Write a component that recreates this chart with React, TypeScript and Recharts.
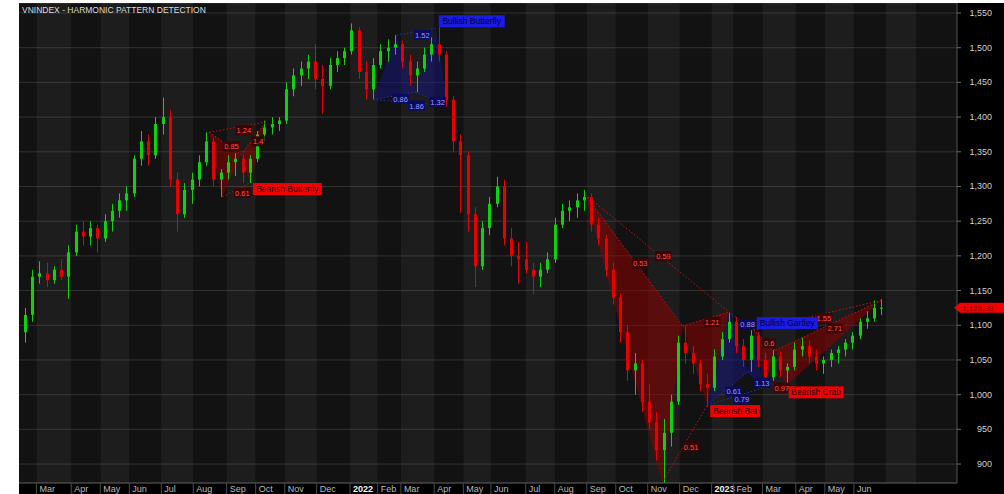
import React from "react";
import {
  ComposedChart,
  Bar,
  Area,
  XAxis,
  YAxis,
  CartesianGrid,
  ReferenceArea,
  ReferenceLine,
  ReferenceDot,
} from "recharts";

// weekly candles, x = trading-day index from mid Feb 2021
const WEEK_T = [
  4, 9, 14, 19, 24, 29, 34, 39, 44, 49, 54, 59, 64, 69, 74, 79, 84, 89, 94, 99,
  104, 109, 114, 119, 124, 129, 134, 139, 144, 149, 154, 159, 164, 169, 174, 179, 184, 189, 194, 199,
  204, 209, 214, 219, 224, 229, 234, 239, 244, 249, 254, 259, 264, 269, 274, 279, 284, 289, 294, 299,
  304, 309, 314, 319, 324, 329, 334, 339, 344, 349, 354, 359, 364, 369, 374, 379, 384, 389, 394, 399,
  404, 409, 414, 419, 424, 429, 434, 439, 444, 449, 454, 459, 464, 469, 474, 479, 484, 489, 494, 499,
  504, 509, 514, 519, 524, 529, 534, 539, 544, 549, 554, 559, 564, 569, 574, 579, 584, 589, 594,
];
const OPEN = [
  1090, 1115, 1170, 1175, 1165, 1180, 1170, 1205, 1235, 1228, 1240, 1225, 1250, 1265, 1280, 1290, 1340, 1365, 1345, 1390,
  1400, 1310, 1260, 1295, 1310, 1335, 1365, 1310, 1320, 1335, 1340, 1320, 1340, 1375, 1385, 1390, 1395, 1440, 1460, 1470,
  1480, 1455, 1445, 1475, 1485, 1495, 1525, 1465, 1440, 1475, 1495, 1500, 1505, 1480, 1460, 1470, 1490, 1505, 1490, 1425,
  1365, 1345, 1260, 1185, 1240, 1275, 1300, 1225, 1200, 1195, 1180, 1170, 1180, 1195, 1245, 1265, 1270, 1280, 1285, 1245,
  1225, 1180, 1140, 1090, 1035, 1045, 990, 960, 920, 945, 990, 1075, 1060, 1045, 1015, 1010, 1055, 1080, 1105, 1070,
  1050, 1085, 1050, 1025, 1055, 1035, 1040, 1065, 1070, 1055, 1045, 1050, 1060, 1065, 1075, 1085, 1105, 1110, 1125,
];
const HIGH = [
  1125, 1180, 1192, 1190, 1185, 1195, 1215, 1245, 1250, 1250, 1245, 1260, 1275, 1290, 1300, 1345, 1380, 1375, 1400, 1428,
  1410, 1320, 1305, 1320, 1345, 1378, 1370, 1325, 1345, 1348, 1346, 1345, 1380, 1395, 1400, 1400, 1450, 1470, 1480, 1490,
  1505, 1475, 1485, 1495, 1500, 1535, 1530, 1480, 1485, 1505, 1512, 1518, 1510, 1490, 1480, 1500, 1515, 1530, 1495, 1430,
  1375, 1350, 1270, 1250, 1285, 1314, 1310, 1240, 1220, 1220, 1190, 1190, 1205, 1255, 1275, 1280, 1290, 1295, 1290, 1255,
  1230, 1190, 1145, 1100, 1060, 1050, 1015, 975, 965, 1000, 1085, 1099, 1070, 1050, 1030, 1065, 1090, 1119, 1112, 1080,
  1093, 1090, 1060, 1064, 1062, 1045, 1075, 1082, 1078, 1065, 1055, 1065, 1070, 1080, 1090, 1110, 1120, 1136, 1138,
];
const LOW = [
  1075, 1105, 1160, 1155, 1160, 1165, 1138, 1200, 1215, 1215, 1205, 1220, 1235, 1255, 1265, 1285, 1330, 1330, 1340, 1375,
  1300, 1235, 1255, 1275, 1300, 1330, 1300, 1285, 1310, 1315, 1305, 1305, 1335, 1365, 1375, 1380, 1390, 1430, 1445, 1455,
  1440, 1405, 1440, 1465, 1475, 1490, 1455, 1425, 1425, 1470, 1480, 1490, 1470, 1445, 1436, 1465, 1480, 1480, 1415, 1350,
  1262, 1235, 1155, 1180, 1230, 1270, 1215, 1185, 1160, 1175, 1145, 1155, 1175, 1190, 1240, 1250, 1255, 1265, 1235, 1215,
  1170, 1130, 1075, 1020, 1000, 975, 950, 905, 873, 925, 985, 1045, 1030, 1005, 983, 1005, 1050, 1075, 1060, 1040,
  1033, 1040, 1010, 1020, 1025, 1012, 1035, 1055, 1045, 1035, 1030, 1040, 1045, 1055, 1065, 1080, 1095, 1105, 1115,
];
const CLOSE = [
  1115, 1170, 1175, 1165, 1180, 1170, 1205, 1235, 1228, 1240, 1225, 1250, 1265, 1280, 1290, 1340, 1365, 1345, 1390, 1400,
  1310, 1260, 1295, 1310, 1335, 1365, 1310, 1320, 1335, 1340, 1320, 1340, 1375, 1385, 1390, 1395, 1440, 1460, 1470, 1480,
  1455, 1445, 1475, 1485, 1495, 1525, 1465, 1440, 1475, 1495, 1500, 1505, 1480, 1460, 1470, 1490, 1505, 1490, 1425, 1365,
  1345, 1260, 1185, 1240, 1275, 1300, 1225, 1200, 1195, 1180, 1170, 1180, 1195, 1245, 1265, 1270, 1280, 1285, 1245, 1225,
  1180, 1140, 1090, 1035, 1045, 990, 960, 920, 945, 990, 1075, 1060, 1045, 1015, 1010, 1055, 1080, 1105, 1070, 1050,
  1085, 1050, 1025, 1055, 1035, 1040, 1065, 1070, 1055, 1045, 1050, 1060, 1065, 1075, 1085, 1105, 1110, 1125, 1125.39,
];
const LAST_PRICE = 1125.39;

// month boundaries (trading-day index), Feb 2021 .. end of view
const MONTH_START_T = [
  0, 12, 36, 56, 76, 98, 120, 143, 163, 183, 205, 228, 247, 263, 286, 306, 325, 349, 369, 391, 411, 433, 455, 477,
  492, 512, 535, 555, 575, 597, 618, 646,
];
const MONTH_TICK_T = [
  12, 36, 56, 76, 98, 120, 143, 163, 183, 205, 228, 247, 263, 286, 306, 325, 349, 369, 391, 411, 433, 455, 477, 492,
  512, 535, 555, 575,
];
const MONTH_LABELS = [
  "Mar", "Apr", "May", "Jun", "Jul", "Aug", "Sep", "Oct", "Nov", "Dec", "2022", "Feb", "Mar", "Apr", "May", "Jun",
  "Jul", "Aug", "Sep", "Oct", "Nov", "Dec", "2023", "Feb", "Mar", "Apr", "May", "Jun",
];
const PRICE_TICKS = [900, 950, 1000, 1050, 1100, 1150, 1200, 1250, 1300, 1350, 1400, 1450, 1500, 1550];

// harmonic patterns: pivots X, A, B, C, D
const PATTERN_NAMES = ["Bearish Butterfly", "Bullish Butterfly", "Bearish Bat", "Bullish Gartley", "Bearish Crab"];
const PATTERN_BULL = [false, true, false, true, false];
const PIVOT_T = [
  [131, 140, 153, 159, 170],
  [244, 260, 273, 287, 295],
  [390, 443, 457, 474, 489],
  [474, 489, 502, 506, 513],
  [506, 514, 521, 528, 594],
];
const PIVOT_V = [
  [1378, 1285, 1346, 1305, 1393],
  [1425, 1518, 1436, 1528, 1417],
  [1288, 873, 1099, 985, 1119],
  [985, 1119, 1033, 1093, 1010],
  [1093, 1017, 1064, 1012, 1136],
];
const RATIO_XB = ["0.85", "0.86", "0.53", "0.61", "0.6"];
const RATIO_AC = ["0.61", "1.52", "0.51", "0.88", "0.97"];
const RATIO_BD = ["1.4", "1.32", "1.21", "1.13", "2.71"];
const RATIO_XD = ["1.24", "1.86", "0.59", "0.79", "1.55"];

const UP = "#10d010";
const DOWN = "#e80000";
const FONT = "'Liberation Sans', Arial, sans-serif";

const candles = WEEK_T.map((t, i) => ({ t, open: OPEN[i], high: HIGH[i], low: LOW[i], close: CLOSE[i] }));

// triangle p0-p1-p2 as a range area (lower/upper edge at the middle pivot)
const triangle = (ts: number[], vs: number[]) => {
  const chord = vs[0] + ((vs[2] - vs[0]) * (ts[1] - ts[0])) / (ts[2] - ts[0]);
  return [
    { t: ts[0], r: [vs[0], vs[0]] },
    { t: ts[1], r: [Math.min(chord, vs[1]), Math.max(chord, vs[1])] },
    { t: ts[2], r: [vs[2], vs[2]] },
  ];
};

// rough Arial width, used to size the label boxes
const textWidth = (s: string, size: number) =>
  s.split("").reduce((w, ch) => {
    if ("iljt ".includes(ch)) return w + 0.26 * size;
    if ("rf".includes(ch)) return w + 0.32 * size;
    if (ch >= "A" && ch <= "Z") return w + 0.68 * size;
    return w + 0.54 * size;
  }, 0);

const Candle = (props: any) => {
  const { x, width, payload } = props;
  let { y, height } = props;
  if (height < 0) {
    y += height;
    height = -height;
  }
  const { open, close, high, low } = payload;
  const color = close >= open ? UP : DOWN;
  const k = high > low ? height / (high - low) : 0;
  const cx = Math.round(x + width / 2) + 0.5;
  const bodyTop = y + (high - Math.max(open, close)) * k;
  const bodyH = Math.max(1, Math.abs(close - open) * k);
  return (
    <g>
      <line x1={cx} x2={cx} y1={y} y2={y + height} stroke={color} strokeWidth={1} />
      <rect x={cx - 1.5} y={bodyTop} width={3} height={bodyH} fill={color} />
    </g>
  );
};

const RatioTag = ({ cx, cy, text, bull }: any) => {
  const w = text.length * 3.4 + 3;
  return (
    <g>
      <rect x={cx - 2} y={cy - 2} width={w} height={10} fill={bull ? "#0b0b5e" : "#3a0505"} />
      <text x={cx - 2 + w / 2} y={cy + 6} textAnchor="middle" fontSize={7.5} fontFamily={FONT} fill={bull ? "#9a9aff" : "#ff5050"}>
        {text}
      </text>
    </g>
  );
};

const NameTag = ({ cx, cy, text, bull }: any) => {
  const w = textWidth(text, 8.5) + 6;
  const top = bull ? cy - 13 : cy;
  return (
    <g>
      <rect x={cx + 3} y={top} width={w} height={12} fill={bull ? "#1c1ce0" : "#f00000"} />
      <text x={cx + 3 + w / 2} y={top + 9} textAnchor="middle" fontSize={8.5} fontFamily={FONT} fill={bull ? "#000040" : "#300000"}>
        {text}
      </text>
    </g>
  );
};

const PriceTag = ({ cx, cy }: any) => (
  <g>
    <polygon points={`${cx - 3},${cy} ${cx + 3},${cy - 5} ${cx + 47},${cy - 5} ${cx + 47},${cy + 5} ${cx + 3},${cy + 5}`} fill="#f00000" />
    <text x={cx + 5} y={cy + 3} fontSize={8} fontFamily={FONT} fill="#8a0000">
      {LAST_PRICE.toLocaleString("en-US", { minimumFractionDigits: 2 })}
    </text>
  </g>
);

const PriceTick = ({ x, y, payload }: any) => (
  <g>
    <line x1={x} x2={x + 4} y1={y} y2={y} stroke="#6a6a6a" />
    <text x={x + 35} y={y + 3} textAnchor="end" fontSize={9} fontFamily={FONT} fill="#cfcfcf">
      {payload.value.toLocaleString("en-US")}
    </text>
  </g>
);

const MonthTick = ({ x, y, payload }: any) => {
  const label = MONTH_LABELS[MONTH_TICK_T.indexOf(payload.value)];
  const isYear = label.length === 4;
  return (
    <g>
      <line x1={x} x2={x} y1={y} y2={y + 11} stroke="#4a4a4a" />
      <text x={x + 3} y={y + 9} fontSize={9} fontFamily={FONT} fontWeight={isYear ? "bold" : "normal"} fill={isYear ? "#f2f2f2" : "#b8b8b8"}>
        {label}
      </text>
    </g>
  );
};

const seg = (p: number, a: number, b: number) => [
  { x: PIVOT_T[p][a], y: PIVOT_V[p][a] },
  { x: PIVOT_T[p][b], y: PIVOT_V[p][b] },
];
const mid = (p: number, a: number, b: number) => ({
  x: (PIVOT_T[p][a] + PIVOT_T[p][b]) / 2,
  y: (PIVOT_V[p][a] + PIVOT_V[p][b]) / 2,
});

export default function App() {
  const legs: [number, number, string[]][] = [
    [0, 2, RATIO_XB],
    [1, 3, RATIO_AC],
    [2, 4, RATIO_BD],
    [0, 4, RATIO_XD],
  ];

  return (
    <div style={{ position: "absolute", left: 0, top: 0, width: 1004, height: 494, background: "#fff" }}>
      <div style={{ position: "absolute", left: 19, top: 3, width: 985, height: 491, background: "#000" }}>
        <ComposedChart width={985} height={491} data={candles} margin={{ top: 0, right: 0, bottom: 0, left: 0 }}>
          {MONTH_START_T.slice(0, -1).map((t, i) => (
            <ReferenceArea
              key={`m${i}`}
              x1={t}
              x2={MONTH_START_T[i + 1]}
              fill="#ffffff"
              fillOpacity={i % 2 ? 0.115 : 0.07}
              stroke="none"
              ifOverflow="visible"
            />
          ))}
          <CartesianGrid vertical={false} stroke="#222" />
          <XAxis
            dataKey="t"
            type="number"
            domain={[0, 646]}
            ticks={MONTH_TICK_T}
            interval={0}
            tick={<MonthTick />}
            tickLine={false}
            tickSize={0}
            tickMargin={0}
            axisLine={{ stroke: "#555" }}
            height={11}
            allowDataOverflow
          />
          <YAxis
            orientation="right"
            type="number"
            domain={[872.7, 1564.4]}
            ticks={PRICE_TICKS}
            interval={0}
            tick={<PriceTick />}
            tickLine={false}
            tickSize={0}
            tickMargin={0}
            axisLine={{ stroke: "#555" }}
            width={47}
            allowDataOverflow
          />

          {PIVOT_T.map((ts, p) =>
            [0, 2].map((s) => (
              <Area
                key={`tri${p}-${s}`}
                data={triangle(ts.slice(s, s + 3), PIVOT_V[p].slice(s, s + 3))}
                dataKey="r"
                type="linear"
                stroke="none"
                fill={PATTERN_BULL[p] ? "#161678" : "#8a0000"}
                fillOpacity={0.55}
                isAnimationActive={false}
              />
            ))
          )}

          {PIVOT_T.map((_, p) =>
            legs.map(([a, b]) => (
              <ReferenceLine
                key={`l${p}-${a}${b}`}
                segment={seg(p, a, b)}
                stroke={PATTERN_BULL[p] ? "#2a2ab0" : "#c01414"}
                strokeDasharray="1.5 2"
                ifOverflow="visible"
              />
            ))
          )}

          <Bar dataKey={(d: any) => [d.low, d.high]} barSize={5} shape={<Candle />} isAnimationActive={false} />

          {PIVOT_T.map((_, p) =>
            legs.map(([a, b, ratios]) => {
              const m = mid(p, a, b);
              return (
                <ReferenceDot
                  key={`r${p}-${a}${b}`}
                  x={m.x}
                  y={m.y}
                  r={1}
                  ifOverflow="visible"
                  shape={(props: any) => <RatioTag cx={props.cx} cy={props.cy} text={ratios[p]} bull={PATTERN_BULL[p]} />}
                />
              );
            })
          )}

          {PATTERN_NAMES.map((name, p) => (
            <ReferenceDot
              key={`n${p}`}
              x={PIVOT_T[p][3]}
              y={PIVOT_V[p][3]}
              r={1}
              ifOverflow="visible"
              shape={(props: any) => <NameTag cx={props.cx} cy={props.cy} text={name} bull={PATTERN_BULL[p]} />}
            />
          ))}

          <ReferenceDot x={646} y={LAST_PRICE} r={1} ifOverflow="visible" shape={(props: any) => <PriceTag cx={props.cx} cy={props.cy} />} />
        </ComposedChart>
        <div
          style={{
            position: "absolute",
            left: 3,
            top: 2,
            fontFamily: FONT,
            fontSize: 8.5,
            color: "#dcdcdc",
            whiteSpace: "nowrap",
          }}
        >
          VNINDEX - HARMONIC PATTERN DETECTION
        </div>
      </div>
    </div>
  );
}
